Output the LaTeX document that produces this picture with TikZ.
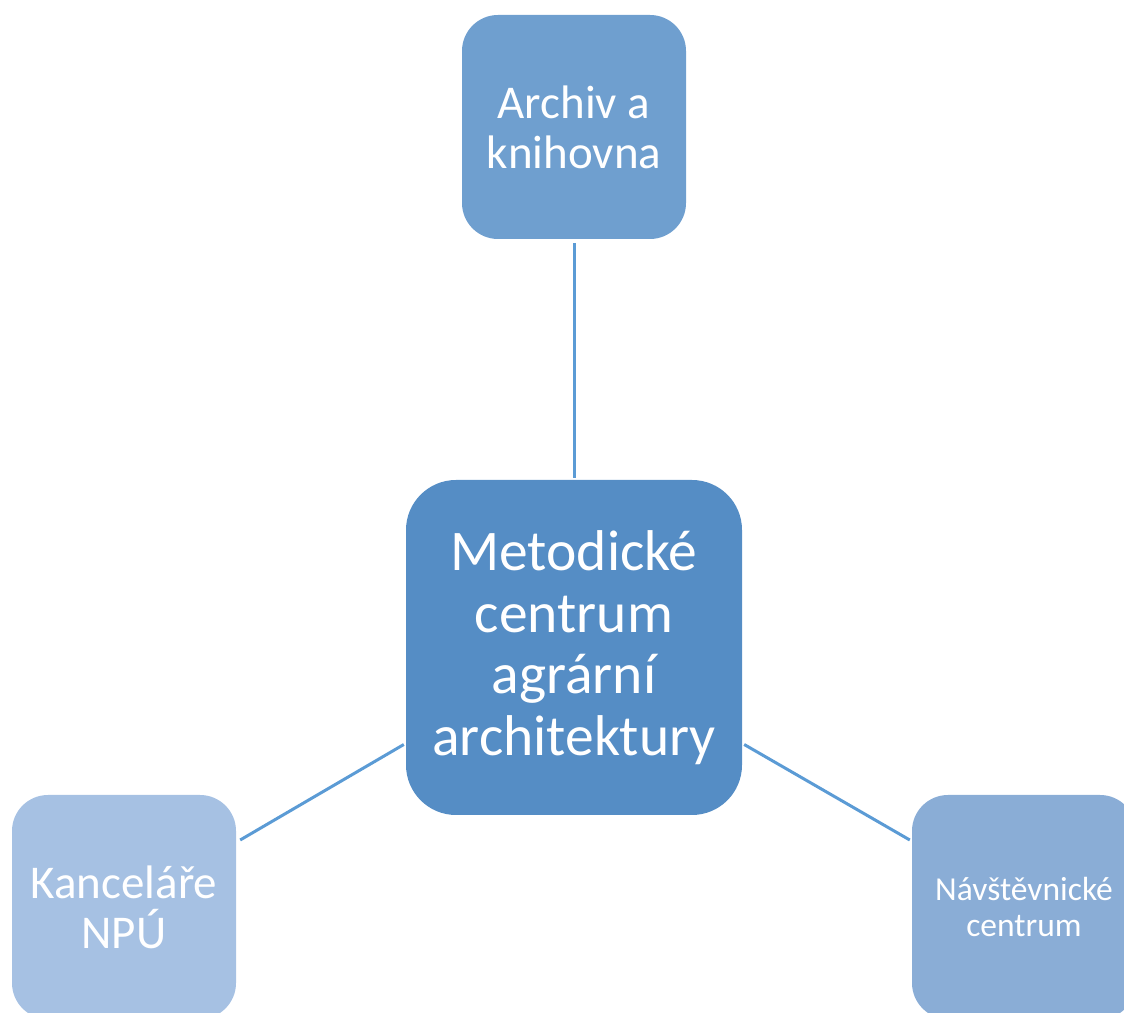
\documentclass[tikz,border=0pt]{standalone}
\usepackage{fontspec}
\setmainfont{Carlito}
\definecolor{topc}{HTML}{6F9FCF}
\definecolor{cenc}{HTML}{558DC5}
\definecolor{leftc}{HTML}{A6C1E3}
\definecolor{rightc}{HTML}{8AADD6}
\definecolor{linec}{HTML}{5B9BD5}
\begin{document}
\begin{tikzpicture}[x=1pt,y=1pt,
  box/.style={fill=#1, draw=none, text=white, align=center, inner sep=0pt,
    minimum width=224pt, minimum height=224pt, rounded corners=36pt},
  conn/.style={draw=linec, line width=3pt}]
\useasboundingbox (0,0) rectangle (1124,1012);
\clip (0,0) rectangle (1124,1012);
\node[box=topc, font=\fontsize{47}{50}\selectfont] (t) at (574,885) {Archiv a\\knihovna};
\node[box=cenc, minimum width=336pt, minimum height=335pt, rounded corners=50pt,
  font=\fontsize{57.5}{61.5}\selectfont] (c) at (574,364.5) {Metodické\\centrum\\agrární\\architektury};
\node[box=leftc, font=\fontsize{47}{50}\selectfont] (l) at (124,105) {Kanceláře\\NPÚ};
\node[box=rightc, font=\fontsize{33.5}{36}\selectfont] (r) at (1024,105) {Návštěvnické\\centrum};
\draw[conn] ([yshift=-4pt]t.south) -- ([yshift=2pt]c.north);
\draw[conn] ([xshift=-2pt,yshift=-97pt]c.west) -- ([xshift=4pt,yshift=67pt]l.east);
\draw[conn] ([xshift=2pt,yshift=-97pt]c.east) -- ([xshift=-2pt,yshift=67pt]r.west);
\end{tikzpicture}
\end{document}
